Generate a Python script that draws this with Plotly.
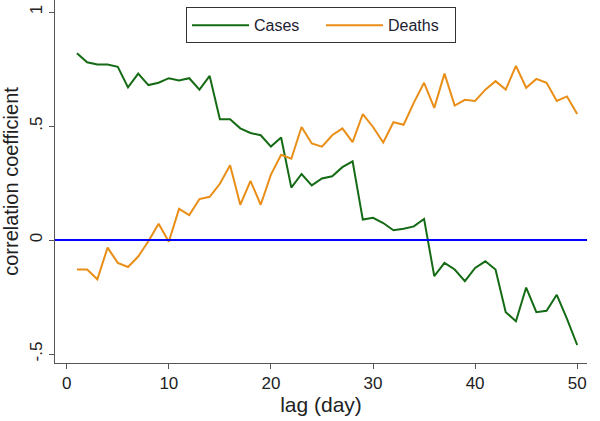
import plotly.graph_objects as go

lag = list(range(1, 51))
cases = [0.82, 0.78, 0.77, 0.77, 0.76, 0.67, 0.73, 0.68, 0.69, 0.71,
         0.70, 0.71, 0.66, 0.72, 0.53, 0.53, 0.49, 0.47, 0.46, 0.41,
         0.45, 0.23, 0.29, 0.24, 0.27, 0.28, 0.32, 0.345, 0.09, 0.098,
         0.075, 0.043, 0.05, 0.06, 0.093, -0.158, -0.10, -0.129, -0.18, -0.122,
         -0.093, -0.129, -0.316, -0.356, -0.208, -0.316, -0.31, -0.24, -0.345, -0.46]
deaths = [-0.129, -0.129, -0.172, -0.033, -0.10, -0.118, -0.072, -0.005, 0.072, -0.007,
          0.137, 0.11, 0.18, 0.19, 0.247, 0.328, 0.155, 0.26, 0.155, 0.287,
          0.374, 0.357, 0.496, 0.424, 0.41, 0.46, 0.49, 0.43, 0.553, 0.496,
          0.428, 0.517, 0.506, 0.603, 0.69, 0.58, 0.73, 0.59, 0.615, 0.61,
          0.66, 0.697, 0.66, 0.764, 0.668, 0.707, 0.69, 0.61, 0.63, 0.553]

xticks = [0, 10, 20, 30, 40, 50]
yticks = [-0.5, 0, 0.5, 1]
ytick_text = ["-.5", "0", ".5", "1"]

FONT = "Liberation Sans, Arial"

fig = go.Figure()
fig.add_trace(go.Scatter(x=lag, y=cases, mode="lines", name="Cases",
                         line=dict(color="#156b15", width=2)))
fig.add_trace(go.Scatter(x=lag, y=deaths, mode="lines", name="Deaths",
                         line=dict(color="#e98e17", width=2)))
fig.add_hline(y=0, line=dict(color="#0000ff", width=2))

axis_common = dict(showgrid=False, zeroline=False, showline=True, automargin=False,
                   linecolor="#555555", linewidth=1, ticks="outside",
                   ticklen=5, tickcolor="#555555", showspikes=False,
                   tickfont=dict(family=FONT, size=17, color="#222222"))

fig.update_layout(
    width=600, height=421,
    margin=dict(l=55, r=13, t=0, b=58),
    paper_bgcolor="white", plot_bgcolor="white",
    hovermode=False,
    showlegend=True,
    legend=dict(orientation="h", x=0.5, xanchor="center", y=0.98, yanchor="top",
                bordercolor="#333333", borderwidth=1, bgcolor="white",
                itemwidth=57, entrywidth=62, entrywidthmode="pixels",
                font=dict(family=FONT, size=16, color="#222233")),
    xaxis=dict(range=[-1.15, 50.96], tickvals=xticks,
               title=dict(text="lag (day)", standoff=3,
                          font=dict(family=FONT, size=21, color="#222222")),
               **axis_common),
    yaxis=dict(range=[-0.539, 1.053], tickvals=yticks, ticktext=ytick_text,
               tickangle=-90,
               title=dict(text="correlation coefficient", standoff=6,
                          font=dict(family=FONT, size=20, color="#222222")),
               **axis_common),
)

fig.write_html("out.html", config={"displayModeBar": False},
               post_script="document.body.style.margin='0';document.body.style.padding='0';")
